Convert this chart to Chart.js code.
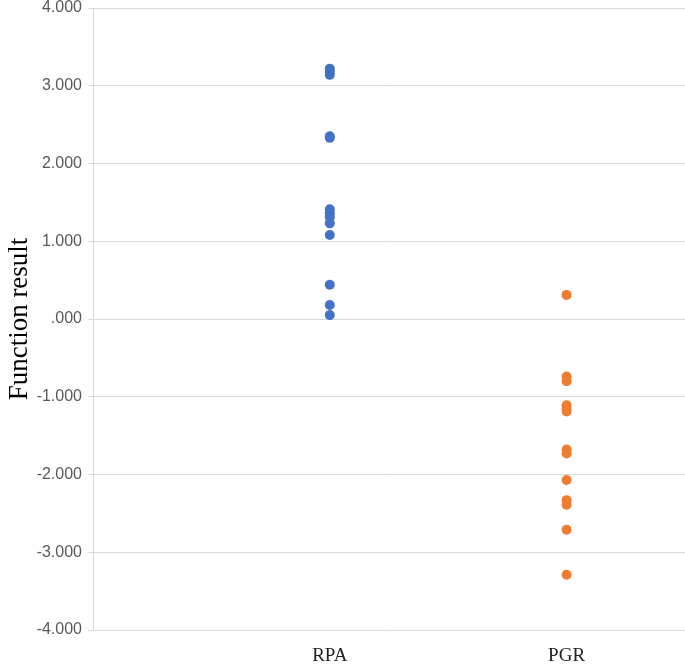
<!DOCTYPE html>
<html>
<head>
<meta charset="utf-8">
<script src="https://cdn.jsdelivr.net/npm/chart.js@4/dist/chart.umd.min.js"></script>
<style>
  html, body { margin: 0; padding: 0; background: #fff; }
  #wrap { width: 685px; height: 667px; }
</style>
</head>
<body>
<div id="wrap"><canvas id="chart" width="685" height="667"></canvas></div>
<script>
const categories = ["RPA", "PGR"];
const rpaValues = [3.22, 3.18, 3.14, 2.35, 2.33, 1.41, 1.36, 1.31, 1.23, 1.08, 0.44, 0.18, 0.05];
const pgrValues = [0.31, -0.74, -0.80, -1.11, -1.15, -1.19, -1.68, -1.73, -2.07, -2.33, -2.39, -2.71, -3.29];
const yTicks = [-4, -3, -2, -1, 0, 1, 2, 3, 4];

const chartE = document.getElementById("chart");

function toPoints(values, idx) {
    return values.map(v => { return {x: idx + 1, y: v}; });
}

new Chart(chartE, {
    type: "scatter",
    data: {
        datasets: [
            {
                label: categories[0],
                data: toPoints(rpaValues, 0),
                backgroundColor: "#4472c4",
                borderColor: "#4472c4",
                pointRadius: 5,
                pointBorderWidth: 0
            },
            {
                label: categories[1],
                data: toPoints(pgrValues, 1),
                backgroundColor: "#ed7d31",
                borderColor: "#ed7d31",
                pointRadius: 5,
                pointBorderWidth: 0
            }
        ]
    },
    options: {
        responsive: false,
        animation: false,
        layout: { autoPadding: false, padding: { top: 8, right: 0, left: 0, bottom: 0 } },
        plugins: {
            legend: { display: false },
            tooltip: { enabled: false }
        },
        scales: {
            x: {
                type: "linear",
                min: 0,
                max: 2.5,
                afterBuildTicks: axis => {
                    axis.ticks = categories.map((c, i) => { return {value: i + 1}; });
                },
                afterFit: axis => {
                    axis.height = 37;
                    axis.paddingLeft = 0;
                    axis.paddingRight = 0;
                },
                ticks: {
                    callback: v => categories[v - 1],
                    font: { family: "Liberation Serif", size: 19 },
                    color: "#222",
                    padding: 7,
                    maxRotation: 0
                },
                grid: { display: false },
                border: { display: false }
            },
            y: {
                min: -4,
                max: 4,
                afterBuildTicks: axis => {
                    axis.ticks = yTicks.map(v => { return {value: v}; });
                },
                afterFit: axis => {
                    axis.width = 93;
                    axis.paddingTop = 0;
                    axis.paddingBottom = 0;
                },
                ticks: {
                    callback: v => v === 0 ? ".000" : v.toFixed(3),
                    font: { family: "Liberation Sans", size: 16 },
                    color: "#595959",
                    padding: 6
                },
                grid: {
                    color: "#d9d9d9",
                    lineWidth: 1,
                    tickLength: 5
                },
                border: { display: true, color: "#d9d9d9" },
                title: {
                    display: true,
                    text: "Function result",
                    font: { family: "Liberation Serif", size: 27 },
                    color: "#000",
                    padding: { top: 4, bottom: 4 }
                }
            }
        }
    }
});
</script>
</body>
</html>
